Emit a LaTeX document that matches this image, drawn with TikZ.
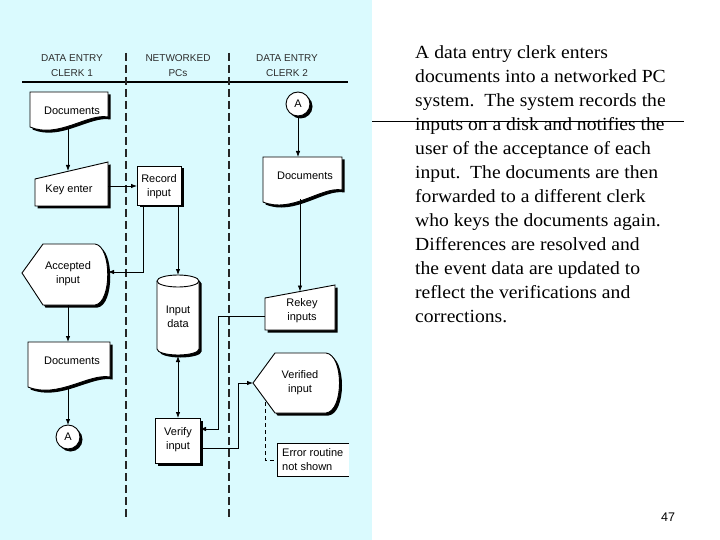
\documentclass[tikz,border=0pt]{standalone}
\usepackage{fontspec}
\setmainfont[FakeStretch=1.06]{Liberation Serif}
\newfontfamily\dsans{Liberation Sans}
\usetikzlibrary{arrows.meta}
\definecolor{panel}{RGB}{218,250,254}
\definecolor{hdr}{RGB}{45,45,45}
\newcommand\shadowed[1]{\fill[black,shift={(2.5,2.5)}] #1; \filldraw[fill=white,draw=black,line width=0.9pt] #1;}
\begin{document}
\begin{tikzpicture}[x=1pt,y=-1pt,
  lbl/.style={font=\dsans\fontsize{11}{14}\selectfont, align=center, inner sep=0pt},
  errlbl/.style={font=\dsans\fontsize{11}{13.5}\selectfont, align=left, inner sep=0pt, anchor=west},
  hdrtxt/.style={font=\dsans\fontsize{10}{15}\selectfont, text=hdr, align=center, inner sep=0pt},
  arr/.style={-{Latex[length=6pt,width=4.5pt]}, line width=0.8pt},
  darr/.style={{Latex[length=6pt,width=4.5pt]}-{Latex[length=6pt,width=4.5pt]}, line width=0.8pt},
  lane/.style={line width=1.9pt, dash pattern=on 8pt off 4pt, draw=black!85},
  errline/.style={line width=0.7pt, dash pattern=on 4pt off 3pt},
  desc/.style={font=\fontsize{18.5}{24}\selectfont, align=left, inner sep=0pt, anchor=north west},
]
\useasboundingbox (0,0) rectangle (720,540);
\fill[white] (0,0) rectangle (720,540);
\fill[panel] (0,0) rectangle (372,540);

% headers
\node[hdrtxt] (h1) at (72,65.5) {DATA ENTRY\\CLERK 1};
\node[hdrtxt] (h2) at (178,65.5) {NETWORKED\\PCs};
\node[hdrtxt] (h3) at (287,65.5) {DATA ENTRY\\CLERK 2};
\coordinate (rl) at (22,82);
\coordinate (rr) at (348,82);
\draw[line width=1.4pt] (rl) -- (rr);

% swim lanes
\coordinate (l1t) at (126,53); \coordinate (l1b) at (126,520);
\coordinate (l2t) at (229,53); \coordinate (l2b) at (229,520);
\draw[lane] (l1t) -- (l1b);
\draw[lane] (l2t) -- (l2b);

% ---- shapes ----
% Documents 1
\shadowed{(30,92) -- (108,92) -- (108,117) .. controls (88,113) and (58,139) .. (30,127) -- cycle}
\node[lbl] (doc1) at (72,111) {Documents};
% Key enter
\shadowed{(35,179) -- (108,162) -- (108,206) -- (35,206) -- cycle}
\node[lbl] (key) at (69,190) {Key enter};
% Record input
\shadowed{(137,166) rectangle (181,205)}
\node[lbl] (rec) at (159,187) {Record\\input};
% Accepted input
\shadowed{(22,273) -- (43,244) -- (95,244) .. controls (112,246) and (112,303) .. (95,305) -- (43,305) -- cycle}
\node[lbl] (acc) at (68,274) {Accepted\\input};
% Documents 2
\shadowed{(28,342) -- (110,342) -- (110,377) .. controls (89,373) and (58,399) .. (28,387) -- cycle}
\node[lbl] (doc2) at (72,361) {Documents};
% connector A (clerk 1)
\shadowed{(68,437) circle[radius=12]}
\node[lbl] (a1) at (68,437) {A};
% Input data cylinder
\shadowed{(157,281) -- (157,349) arc[start angle=180,end angle=0,x radius=21,y radius=6] -- (199,281) arc[start angle=0,end angle=-180,x radius=21,y radius=6] -- cycle}
\draw[line width=0.9pt] (157,281) arc[start angle=180,end angle=0,x radius=21,y radius=6];
\node[lbl] (data) at (178,317) {Input\\data};
% Verify input
\shadowed{(155,418) rectangle (200,463)}
\node[lbl] (ver) at (178,440) {Verify\\input};
% connector A (clerk 2)
\shadowed{(298,104) circle[radius=12]}
\node[lbl] (a2) at (298,104) {A};
% Documents 3
\shadowed{(263,157) -- (342,157) -- (342,190) .. controls (322,186) and (292,214) .. (263,202) -- cycle}
\node[lbl] (doc3) at (305,176) {Documents};
% Rekey inputs
\shadowed{(265,298) -- (335,285) -- (335,330) -- (265,330) -- cycle}
\node[lbl] (rekey) at (302,311) {Rekey\\inputs};
% Verified input
\shadowed{(253,383) -- (275,353) -- (326,353) .. controls (344,355) and (344,411) .. (326,413) -- (275,413) -- cycle}
\node[lbl] (vfd) at (300,383) {Verified\\input};
% Error routine box
\fill[white] (277,443) rectangle (349,476);
\draw[line width=0.6pt] (349,443) -- (277,443) -- (277,476) -- (349,476);
\node[errlbl] (err) at (282,459.5) {Error routine\\not shown};

% ---- connection points ----
\coordinate (doc1b) at (68,128);
\coordinate (keyt) at (68,171);
\coordinate (keyr) at (108,186);
\coordinate (recl) at (137,186);
\coordinate (recb1) at (143,205);
\coordinate (recb2) at (178,205);
\coordinate (accr) at (108,272);
\coordinate (accb) at (68,305);
\coordinate (doc2t) at (68,342);
\coordinate (doc2b) at (68,387);
\coordinate (a1t) at (68,425);
\coordinate (datat) at (178,275);
\coordinate (datab) at (178,356);
\coordinate (vert) at (178,418);
\coordinate (verr1) at (200,429);
\coordinate (verr2) at (200,448);
\coordinate (a2b) at (298,116);
\coordinate (doc3t) at (298,157);
\coordinate (doc3b) at (300,199);
\coordinate (rekeyt) at (300,291.5);
\coordinate (rekeyl) at (265,316);
\coordinate (vfdl) at (253,383);
\coordinate (vfdb) at (265,402);
\coordinate (errl) at (277,460);

% ---- connectors ----
\draw[arr] (doc1b) -- (keyt);
\draw[arr] (keyr) -- (recl);
\draw[arr] (recb1) |- (accr);
\draw[arr] (recb2) -- (datat);
\draw[arr] (accb) -- (doc2t);
\draw[arr] (doc2b) -- (a1t);
\draw[darr] (datab) -- (vert);
\draw[arr] (a2b) -- (doc3t);
\draw[arr] (doc3b) -- (rekeyt);
\draw[arr] (rekeyl) -- ++(-47,0) |- (verr1);
\draw[arr] (verr2) -- ++(38,0) |- (vfdl);
\draw[errline] (vfdb) |- (errl);

% ---- slide text ----
\node[desc] (txt) at (415,45) {A data entry clerk enters\\documents into a networked PC\\system.\ \ The system records the\\inputs on a disk and notifies the\\user of the acceptance of each\\input.\ \ The documents are then\\forwarded to a different clerk\\who keys the documents again.\\Differences are resolved and\\the event data are updated to\\reflect the verifications and\\corrections.};
\coordinate (sl) at (372,121);
\coordinate (sr) at (684,121);
\draw[line width=0.9pt] (sl) -- (sr);
\node[font=\dsans\fontsize{12.5}{14}\selectfont, inner sep=0pt] (pg) at (668,517) {47};
\end{tikzpicture}
\end{document}
